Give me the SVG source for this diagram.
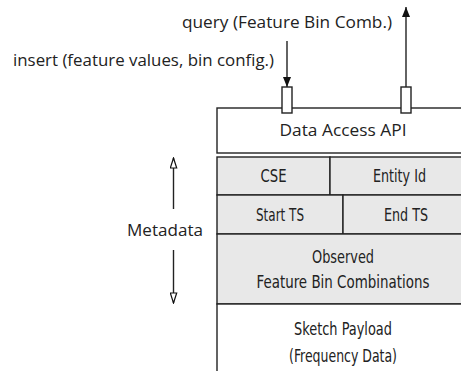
<svg xmlns="http://www.w3.org/2000/svg" width="461" height="371" viewBox="0 0 461 371">
<defs>
<style>
.lbl{font-family:"Open Sans","Noto Sans","Liberation Sans",sans-serif;font-size:15.5px;fill:#222}
.cell{font-family:"DejaVu Sans Condensed","DejaVu Sans","Liberation Sans",sans-serif;font-stretch:condensed;font-size:17.5px;fill:#222;text-anchor:middle}
.box{fill:#fff;stroke:#222;stroke-width:1.4}
.gray{fill:#e8e8e8;stroke:#222;stroke-width:1.4}
.line{stroke:#222;stroke-width:1.4;fill:none}
</style>
<marker id="solid" viewBox="0 0 10 8" refX="10" refY="4" markerWidth="10" markerHeight="8" markerUnits="userSpaceOnUse" orient="auto"><path d="M0,0 L10,4 L0,8 Z" fill="#111"/></marker>
<marker id="hollow" viewBox="0 0 12 8" refX="11" refY="4" markerWidth="12" markerHeight="8" markerUnits="userSpaceOnUse" orient="auto"><path d="M1,0.8 L11,4 L1,7.2 Z" fill="#fff" stroke="#111" stroke-width="1.2"/></marker>
</defs>
<rect width="461" height="371" fill="#fff"/>
<g id="api">
<rect class="box" x="217" y="108" width="260" height="45"/>
<text class="lbl" x="343" y="136" text-anchor="middle" textLength="127" lengthAdjust="spacingAndGlyphs">Data Access API</text>
</g>
<g id="cse"><rect class="gray" x="217" y="157" width="113" height="38"/><text class="cell" x="273.5" y="182" textLength="26" lengthAdjust="spacingAndGlyphs">CSE</text></g>
<g id="entity"><rect class="gray" x="330" y="157" width="147" height="38"/><text class="cell" x="399.5" y="182" textLength="53" lengthAdjust="spacingAndGlyphs">Entity Id</text></g>
<g id="start"><rect class="gray" x="217" y="195" width="126" height="39"/><text class="cell" x="280" y="221" textLength="48" lengthAdjust="spacingAndGlyphs">Start TS</text></g>
<g id="end"><rect class="gray" x="343" y="195" width="134" height="39"/><text class="cell" x="406" y="221" textLength="44" lengthAdjust="spacingAndGlyphs">End TS</text></g>
<g id="observed"><rect class="gray" x="217" y="234" width="260" height="70"/><text class="cell" x="343" y="263" textLength="62" lengthAdjust="spacingAndGlyphs">Observed</text><text class="cell" x="343" y="288" textLength="173" lengthAdjust="spacingAndGlyphs">Feature Bin Combinations</text></g>
<g id="sketch"><rect class="box" x="217" y="304" width="260" height="80"/><text class="cell" x="343" y="335" textLength="98" lengthAdjust="spacingAndGlyphs">Sketch Payload</text><text class="cell" x="343" y="362" textLength="108" lengthAdjust="spacingAndGlyphs">(Frequency Data)</text></g>
<g id="ports">
<rect class="box" x="282" y="87" width="10" height="26"/>
<rect class="box" x="401" y="87" width="10" height="26"/>
</g>
<g id="labels">
<text class="lbl" x="182" y="28" textLength="210" lengthAdjust="spacingAndGlyphs">query (Feature Bin Comb.)</text>
<text class="lbl" x="13" y="66" textLength="261" lengthAdjust="spacingAndGlyphs">insert (feature values, bin config.)</text>
<text class="lbl" x="165" y="236" text-anchor="middle" textLength="76" lengthAdjust="spacingAndGlyphs">Metadata</text>
</g>
<g id="connectors">
<line class="line" x1="287" y1="41" x2="287" y2="87" marker-end="url(#solid)"/>
<line class="line" x1="406" y1="87" x2="406" y2="7" marker-end="url(#solid)"/>
<line class="line" x1="173.5" y1="209" x2="173.5" y2="158" marker-end="url(#hollow)"/>
<line class="line" x1="173.5" y1="250" x2="173.5" y2="303" marker-end="url(#hollow)"/>
</g>
</svg>
